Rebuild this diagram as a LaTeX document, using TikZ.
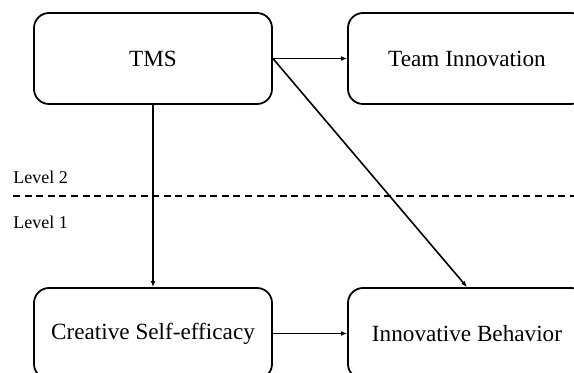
\documentclass[tikz,border=0pt]{standalone}
\usepackage{fontspec}
\setmainfont{Liberation Serif}
\usetikzlibrary{arrows.meta}
\begin{document}
\begin{tikzpicture}[x=0.5pt, y=-0.5pt, > = {Latex[length=3pt, width=2.4pt]},
    factor/.style = {draw, line width=0.9pt, rounded corners=7.5pt,
        minimum width=119pt, minimum height=45.5pt, inner sep=0pt,
        font=\fontsize{11.6}{14}\selectfont},
    path/.style = {->, line width=0.8pt},
    level/.style = {anchor=west, inner sep=0pt, font=\fontsize{9}{11}\selectfont}]

    \useasboundingbox (0, 0) rectangle (574, 373);
    \clip (0, 0) rectangle (574, 373);

    % Level 2 factors
    \node [factor] (tms) at (153, 58.5) {TMS};
    \node [factor] (team) at (467, 58.5) {Team Innovation};

    % Level 1 factors
    \node [factor] (cse) at (153, 333.5) {Creative Self-efficacy};
    \node [factor] (ib) at (467, 333.5) {Innovative Behavior};

    % Level divider
    \coordinate (divL) at (13, 196);
    \coordinate (divR) at (574, 196);
    \draw [line width=0.8pt, dash pattern=on 3.5pt off 2.3pt] (divL) -- (divR);
    \node [level] (lv2) at (13, 177) {Level 2};
    \node [level] (lv1) at (13, 222) {Level 1};

    % Paths
    \draw [path] (tms.east) -- (team.west);
    \draw [path] (tms.south) -- (cse.north);
    \draw [path] (tms.east) -- (ib.north);
    \draw [path] (cse.east) -- (ib.west);
\end{tikzpicture}
\end{document}
